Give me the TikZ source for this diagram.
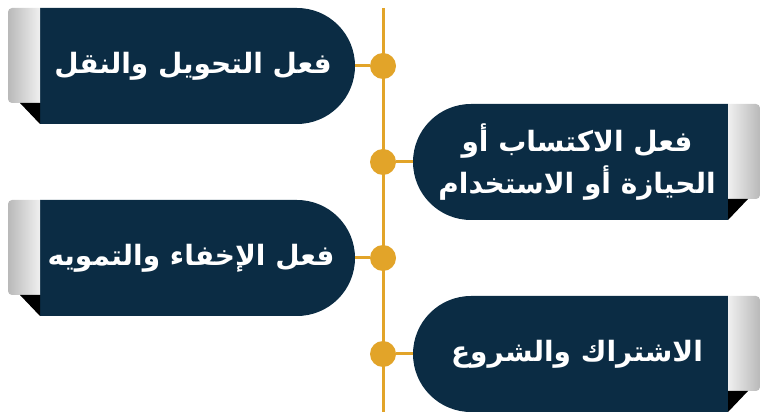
\documentclass[tikz,border=0pt]{standalone}
\usepackage{fontspec}
\newfontfamily\arabicfont[Script=Arabic]{DejaVu Sans}
\TeXXeTstate=1
\definecolor{navy}{RGB}{11,44,68}
\definecolor{gold}{RGB}{226,164,41}
\tikzstyle{dot}=[circle,fill=gold,inner sep=0pt,minimum size=26pt]
\tikzstyle{lbl}=[text=white,align=center,
  font=\arabicfont\bfseries\fontsize{28}{42}\selectfont]
\tikzstyle{link}=[draw=gold,line width=3pt]
\tikzstyle{ltab}=[left color=gray!55,right color=gray!12]
\tikzstyle{rtab}=[left color=gray!12,right color=gray!55]
\tikzstyle{none}=[]

\begin{document}
\begin{tikzpicture}[x=1pt,y=1pt]
        \useasboundingbox (0,0) rectangle (768,420);
        % boxes, left side
        \fill [navy] (40,412) -- (297,412) arc [start angle=90, end angle=-90, radius=58] -- (40,296) -- cycle;
        \shade [style=ltab] (40,412) [rounded corners=4pt] -- (8,412) -- (8,317) [sharp corners] -- (40,317) -- cycle;
        \fill [black] (20,317) -- (40,317) -- (40,296) -- cycle;
        \fill [navy] (40,220) -- (297,220) arc [start angle=90, end angle=-90, radius=58] -- (40,104) -- cycle;
        \shade [style=ltab] (40,220) [rounded corners=4pt] -- (8,220) -- (8,125) [sharp corners] -- (40,125) -- cycle;
        \fill [black] (20,125) -- (40,125) -- (40,104) -- cycle;
        % boxes, right side
        \fill [navy] (728,316) -- (471,316) arc [start angle=90, end angle=270, radius=58] -- (728,200) -- cycle;
        \shade [style=rtab] (728,316) [rounded corners=4pt] -- (760,316) -- (760,221) [sharp corners] -- (728,221) -- cycle;
        \fill [black] (728,221) -- (748,221) -- (728,200) -- cycle;
        \fill [navy] (728,124) -- (471,124) arc [start angle=90, end angle=270, radius=58] -- (728,8) -- cycle;
        \shade [style=rtab] (728,124) [rounded corners=4pt] -- (760,124) -- (760,29) [sharp corners] -- (728,29) -- cycle;
        \fill [black] (728,29) -- (748,29) -- (728,8) -- cycle;

        \node [style=none] (9) at (383, 412) {};
        \node [style=none] (10) at (383, 8) {};
        \node [style=none] (5) at (355, 354) {};
        \node [style=none] (6) at (413, 258) {};
        \node [style=none] (7) at (355, 162) {};
        \node [style=none] (8) at (413, 66) {};
        \draw [style=link] (9.center) to (10.center);
        \node [style=dot] (1) at (383, 354) {};
        \node [style=dot] (2) at (383, 258) {};
        \node [style=dot] (3) at (383, 162) {};
        \node [style=dot] (4) at (383, 66) {};
        \draw [style=link] (5.center) to (1);
        \draw [style=link] (6.center) to (2);
        \draw [style=link] (7.center) to (3);
        \draw [style=link] (8.center) to (4);

        \node [style=lbl] (11) at (193, 354) {\beginR فعل التحويل والنقل\endR};
        \node [style=lbl] (12) at (577, 258) {\beginR فعل الاكتساب أو\endR\\\beginR الحيازة أو الاستخدام\endR};
        \node [style=lbl] (13) at (191, 162) {\beginR فعل الإخفاء والتمويه\endR};
        \node [style=lbl] (14) at (577, 66) {\beginR الاشتراك والشروع\endR};
    \end{tikzpicture}
\end{document}
